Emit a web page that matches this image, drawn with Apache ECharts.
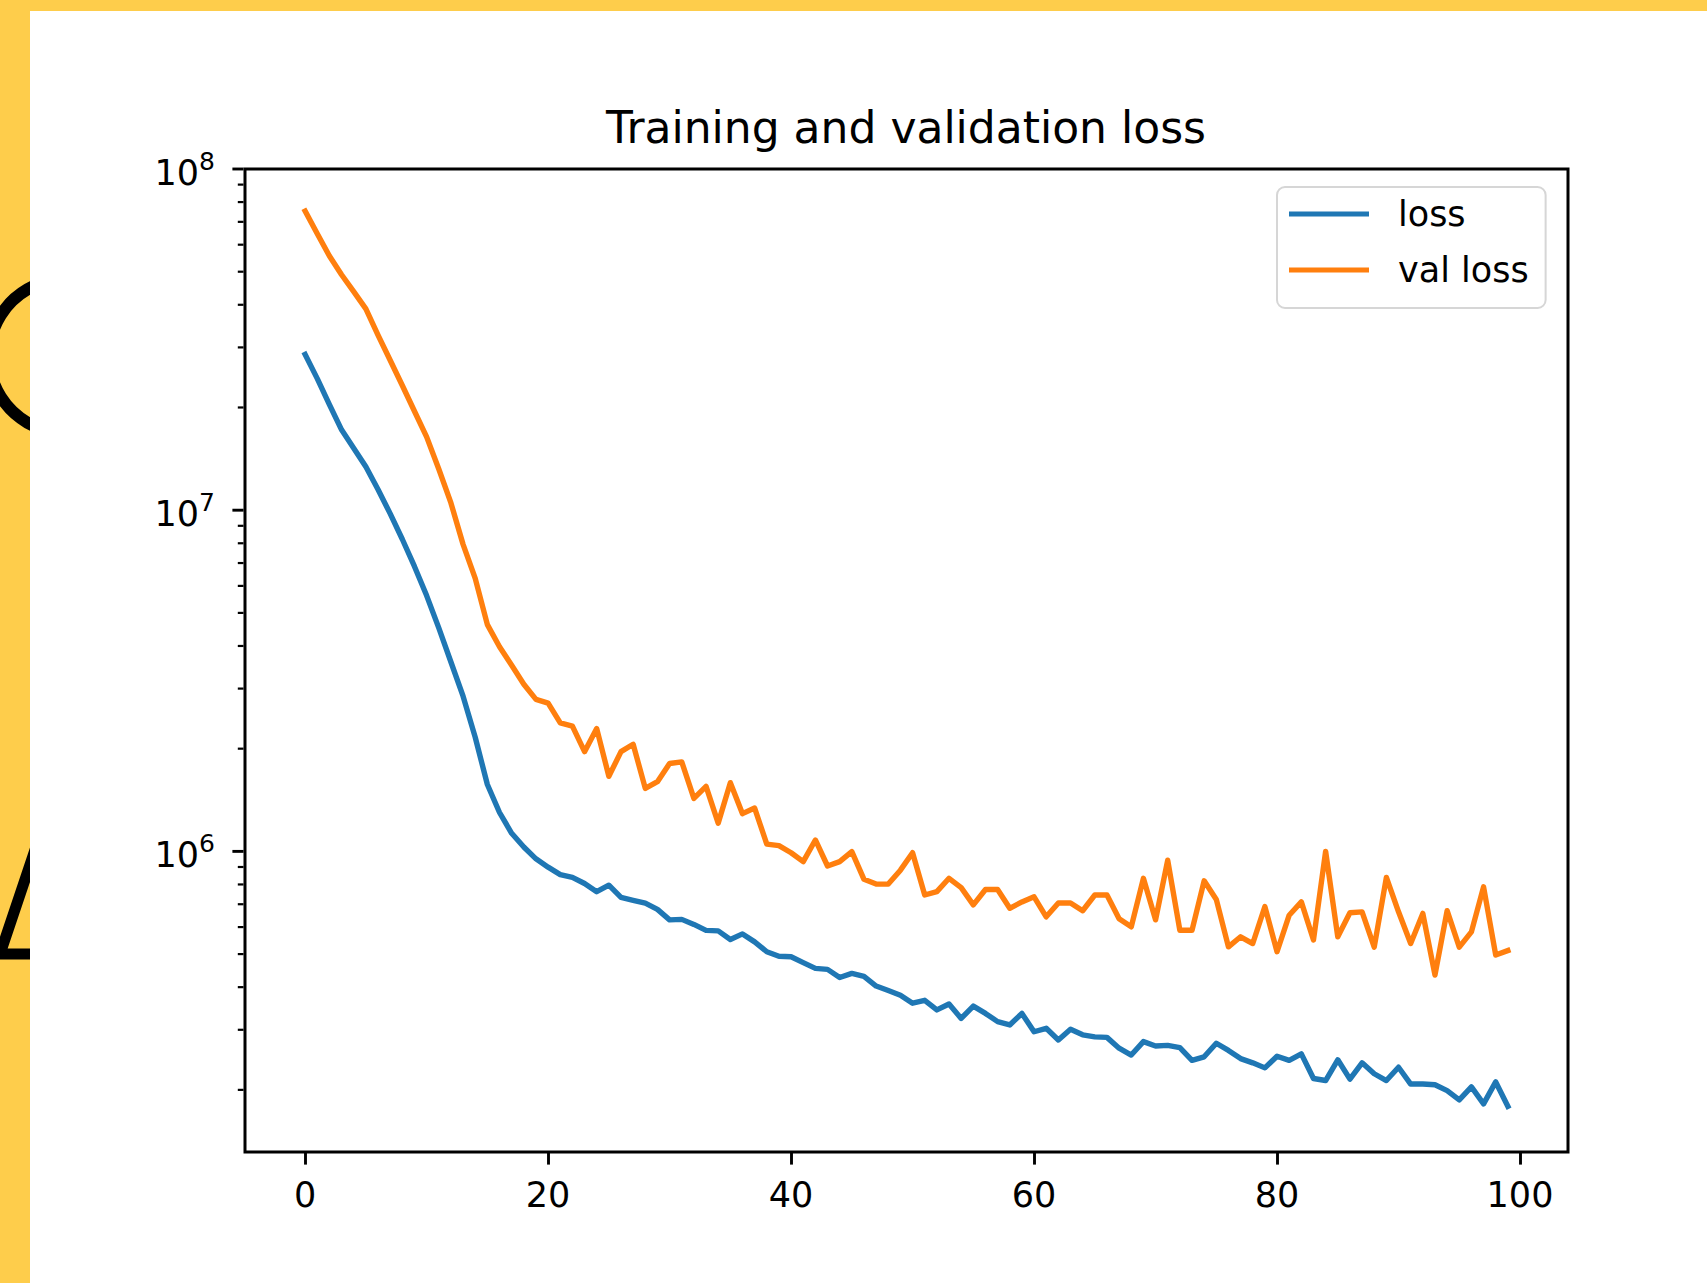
<!DOCTYPE html>
<html>
<head>
<meta charset="utf-8">
<script src="https://cdn.jsdelivr.net/npm/echarts@6/dist/echarts.min.js"></script>
<style>
html, body { margin: 0; padding: 0; background: #ffffff; }
#chart { width: 1707px; height: 1283px; }
</style>
</head>
<body>
<div id="chart"></div>
<script>
// ---------------- data ----------------
const epochs = [0,1,2,3,4,5,6,7,8,9,10,11,12,13,14,15,16,17,18,19,
  20,21,22,23,24,25,26,27,28,29,30,31,32,33,34,35,36,37,38,39,
  40,41,42,43,44,45,46,47,48,49,50,51,52,53,54,55,56,57,58,59,
  60,61,62,63,64,65,66,67,68,69,70,71,72,73,74,75,76,77,78,79,
  80,81,82,83,84,85,86,87,88,89,90,91,92,93,94,95,96,97,98,99];

const loss = [2.86e7,2.43e7,2.04e7,1.72e7,1.52e7,1.34e7,1.15e7,9.77e6,8.22e6,6.84e6,
  5.62e6,4.52e6,3.59e6,2.85e6,2.16e6,1.57e6,1.30e6,1.13e6,1.03e6,9.51e5,
  8.99e5,8.55e5,8.39e5,8.05e5,7.62e5,7.96e5,7.33e5,7.19e5,7.05e5,6.76e5,
  6.30e5,6.32e5,6.11e5,5.87e5,5.85e5,5.52e5,5.73e5,5.43e5,5.08e5,4.93e5,
  4.91e5,4.72e5,4.54e5,4.51e5,4.27e5,4.39e5,4.30e5,4.03e5,3.91e5,3.79e5,
  3.59e5,3.66e5,3.43e5,3.57e5,3.24e5,3.52e5,3.35e5,3.17e5,3.10e5,3.35e5,
  2.96e5,3.03e5,2.80e5,3.01e5,2.90e5,2.86e5,2.85e5,2.65e5,2.53e5,2.77e5,
  2.69e5,2.70e5,2.66e5,2.44e5,2.50e5,2.74e5,2.61e5,2.47e5,2.40e5,2.32e5,
  2.51e5,2.44e5,2.55e5,2.16e5,2.13e5,2.45e5,2.15e5,2.40e5,2.23e5,2.13e5,
  2.33e5,2.08e5,2.08e5,2.07e5,1.99e5,1.87e5,2.04e5,1.82e5,2.11e5,1.79e5];

const valLoss = [7.53e7,6.46e7,5.56e7,4.90e7,4.37e7,3.89e7,3.26e7,2.75e7,2.32e7,1.95e7,
  1.64e7,1.32e7,1.05e7,7.94e6,6.31e6,4.62e6,3.98e6,3.51e6,3.09e6,2.79e6,
  2.72e6,2.38e6,2.33e6,1.96e6,2.29e6,1.66e6,1.96e6,2.06e6,1.53e6,1.60e6,
  1.81e6,1.83e6,1.43e6,1.55e6,1.21e6,1.59e6,1.29e6,1.34e6,1.05e6,1.04e6,
  9.91e5,9.33e5,1.08e6,9.06e5,9.33e5,9.98e5,8.28e5,8.02e5,8.02e5,8.81e5,
  9.91e5,7.45e5,7.62e5,8.34e5,7.83e5,6.97e5,7.73e5,7.73e5,6.81e5,7.11e5,
  7.36e5,6.43e5,7.06e5,7.06e5,6.70e5,7.45e5,7.45e5,6.35e5,6.01e5,8.34e5,
  6.30e5,9.42e5,5.87e5,5.87e5,8.20e5,7.23e5,5.25e5,5.62e5,5.37e5,6.89e5,
  5.08e5,6.50e5,7.11e5,5.50e5,1.00e6,5.62e5,6.61e5,6.65e5,5.24e5,8.39e5,
  6.65e5,5.37e5,6.58e5,4.34e5,6.70e5,5.24e5,5.81e5,7.87e5,4.97e5,5.12e5];

const seriesNames = ['loss', 'val loss'];
const titleText = 'Training and validation loss';
const xTickValues = [0, 20, 40, 60, 80, 100];
const yMajorTicks = [1e6, 1e7, 1e8];
const yMinorTicks = [2e5,3e5,4e5,5e5,6e5,7e5,8e5,9e5,
  2e6,3e6,4e6,5e6,6e6,7e6,8e6,9e6,
  2e7,3e7,4e7,5e7,6e7,7e7,8e7,9e7];

// ---------------- chart ----------------
const X_MIN = -4.95, X_MAX = 103.95;
const Y_MIN = 1.315e5, Y_MAX = 1e8;
const FONT = 'DejaVu Sans';
const BLUE = '#1f77b4', ORANGE = '#ff7f0e';

const chart = echarts.init(document.getElementById('chart'), null, {renderer: 'svg', width: 1707, height: 1283});

const tickData = yMajorTicks.map(v => [X_MIN, v, 1]).concat(yMinorTicks.map(v => [X_MIN, v, 0]));

const option = {
  animation: false,
  backgroundColor: '#ffffff',
  graphic: [
    {type: 'rect', z: -30, silent: true, shape: {x: 0, y: 0, width: 1707, height: 1283}, style: {fill: '#FECD4B'}},
    {type: 'circle', z: -29, silent: true, shape: {cx: 66, cy: 356, r: 77}, style: {fill: 'none', stroke: '#000', lineWidth: 12}},
    {type: 'polyline', z: -29, silent: true, shape: {points: [[40, 835], [0, 954], [60, 954]]}, style: {fill: 'none', stroke: '#000', lineWidth: 11, lineJoin: 'miter'}},
    {type: 'rect', z: -28, silent: true, shape: {x: 30, y: 11, width: 1677, height: 1272}, style: {fill: '#ffffff'}}
  ],
  title: {
    text: titleText,
    left: 906, top: 102, padding: 0,
    textAlign: 'center',
    textStyle: {fontFamily: FONT, fontSize: 44, fontWeight: 'normal', color: '#000', lineHeight: 50}
  },
  legend: {
    data: seriesNames,
    orient: 'vertical',
    left: 1277, top: 187,
    padding: [7, 17, 18, 12],
    itemWidth: 80, itemHeight: 5, itemGap: 16,
    icon: 'rect',
    backgroundColor: '#ffffff',
    borderColor: '#d6d6d6', borderWidth: 2, borderRadius: 8,
    textStyle: {fontFamily: FONT, fontSize: 35, color: '#000', lineHeight: 40, padding: [0, 0, 0, 24]}
  },
  grid: {
    left: 245, top: 169, width: 1323, height: 983,
    show: true, borderColor: '#000', borderWidth: 3, backgroundColor: 'transparent',
    containLabel: false
  },
  xAxis: {
    type: 'value', min: X_MIN, max: X_MAX,
    splitLine: {show: false},
    axisLine: {show: false, onZero: false},
    axisTick: {show: true, length: 12.6, lineStyle: {color: '#000', width: 2.9}, customValues: xTickValues},
    axisLabel: {customValues: xTickValues, margin: 25, fontFamily: FONT, fontSize: 35, color: '#000'}
  },
  yAxis: {
    type: 'log', logBase: 10, min: Y_MIN, max: Y_MAX,
    splitLine: {show: false},
    axisLine: {show: false},
    axisTick: {show: false},
    minorTick: {show: false},
    axisLabel: {
      showMinLabel: false, showMaxLabel: true, margin: 30,
      formatter: v => '{b|10}{s|' + Math.round(Math.log10(v)) + '}',
      rich: {
        b: {fontFamily: FONT, fontSize: 35, color: '#000', padding: [8, 0, 0, 0]},
        s: {fontFamily: FONT, fontSize: 25, color: '#000', padding: [0, 0, 15, 0]}
      }
    }
  },
  series: [
    {
      name: seriesNames[0], type: 'line', showSymbol: false, symbol: 'none',
      data: epochs.map((e, i) => [e, loss[i]]),
      itemStyle: {color: BLUE},
      lineStyle: {color: BLUE, width: 5.4, join: 'round', cap: 'square'},
      z: 3
    },
    {
      name: seriesNames[1], type: 'line', showSymbol: false, symbol: 'none',
      data: epochs.map((e, i) => [e, valLoss[i]]),
      itemStyle: {color: ORANGE},
      lineStyle: {color: ORANGE, width: 5.4, join: 'round', cap: 'square'},
      z: 4
    },
    {
      name: 'yticks', type: 'custom', silent: true, clip: false, z: 6,
      data: tickData,
      renderItem: function (params, api) {
        const p = api.coord([api.value(0), api.value(1)]);
        const major = api.value(2) === 1;
        const len = major ? 12.6 : 7.2;
        return {
          type: 'line',
          shape: {x1: p[0] - len, y1: p[1], x2: p[0] - 1.5, y2: p[1]},
          style: {stroke: '#000', lineWidth: major ? 2.9 : 2.2}
        };
      }
    }
  ]
};
chart.setOption(option);
</script>
</body>
</html>
